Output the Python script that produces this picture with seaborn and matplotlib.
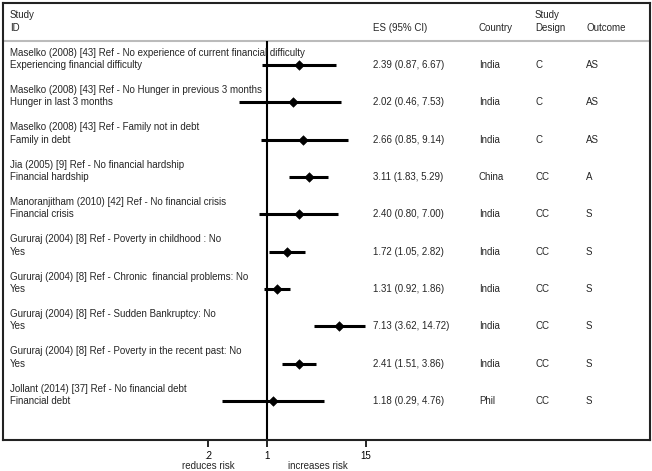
import numpy as np
import pandas as pd
import seaborn as sns
import matplotlib.pyplot as plt
import matplotlib.transforms as mtransforms

# Datos del forest plot
estudios = ["Maselko (2008) [43] Ref - No experience of current financial difficulty",
            "Maselko (2008) [43] Ref - No Hunger in previous 3 months",
            "Maselko (2008) [43] Ref - Family not in debt",
            "Jia (2005) [9] Ref - No financial hardship",
            "Manoranjitham (2010) [42] Ref - No financial crisis",
            "Gururaj (2004) [8] Ref - Poverty in childhood : No",
            "Gururaj (2004) [8] Ref - Chronic  financial problems: No",
            "Gururaj (2004) [8] Ref - Sudden Bankruptcy: No",
            "Gururaj (2004) [8] Ref - Poverty in the recent past: No",
            "Jollant (2014) [37] Ref - No financial debt"]
exposicion = ["Experiencing financial difficulty", "Hunger in last 3 months", "Family in debt",
              "Financial hardship", "Financial crisis", "Yes", "Yes", "Yes", "Yes", "Financial debt"]
es = [2.39, 2.02, 2.66, 3.11, 2.40, 1.72, 1.31, 7.13, 2.41, 1.18]
lo = [0.87, 0.46, 0.85, 1.83, 0.80, 1.05, 0.92, 3.62, 1.51, 0.29]
hi = [6.67, 7.53, 9.14, 5.29, 7.00, 2.82, 1.86, 14.72, 3.86, 4.76]
pais = ["India", "India", "India", "China", "India", "India", "India", "India", "India", "Phil"]
diseno = ["C", "C", "C", "CC", "CC", "CC", "CC", "CC", "CC", "CC"]
resultado = ["AS", "AS", "AS", "A", "S", "S", "S", "S", "S", "S"]
ticks = [0.2, 1, 15]
tick_labels = [".2", "1", "15"]

df = pd.DataFrame({"estudio": estudios, "exp": exposicion, "es": es, "lo": lo, "hi": hi,
                   "pais": pais, "diseno": diseno, "resultado": resultado})
df["fila"] = np.arange(len(df))

sns.set_theme(style="white")
plt.rcParams["font.family"] = ["Liberation Sans", "DejaVu Sans"]

fig = plt.figure(figsize=(6.52, 4.71), dpi=100)
ax = fig.add_axes([3 / 652, 31 / 471, 647 / 652, 437 / 471])

ax.set_xscale("log")
ppd = 84.3  # pixeles por decada
ax.set_xlim(10 ** ((3 - 267) / ppd), 10 ** ((650 - 267) / ppd))
ax.set_ylim(10.04, -1.66)

# Marco
for s in ax.spines.values():
    s.set_color("#222222")
    s.set_linewidth(1.5)

# Linea de cabecera y linea de no efecto
ax.axhline(-0.63, color="#bbbbbb", lw=1.5)
ax.vlines(1, -0.63, 10.04, color="black", lw=1.5)

# Intervalos de confianza y puntos
ax.hlines(df["fila"], df["lo"], df["hi"], color="black", lw=2.2)
sns.scatterplot(data=df, x="es", y="fila", marker="D", s=24, color="black",
                edgecolor="black", ax=ax, legend=False, zorder=3)

# Textos
tr = mtransforms.blended_transform_factory(ax.transAxes, ax.transData)
fs = 7
cols = [0.0108, 0.5719, 0.7357, 0.8223, 0.9011]
for i, r in df.iterrows():
    ax.text(cols[0], r["fila"] - 0.33, r["estudio"], transform=tr, fontsize=fs, va="center")
    ax.text(cols[0], r["fila"], r["exp"], transform=tr, fontsize=fs, va="center")
    ax.text(cols[1], r["fila"], f"{r['es']:.2f} ({r['lo']:.2f}, {r['hi']:.2f})",
            transform=tr, fontsize=fs, va="center")
    ax.text(cols[2], r["fila"], r["pais"], transform=tr, fontsize=fs, va="center")
    ax.text(cols[3], r["fila"], r["diseno"], transform=tr, fontsize=fs, va="center")
    ax.text(cols[4], r["fila"], r["resultado"], transform=tr, fontsize=fs, va="center")

# Cabecera
ax.text(cols[0], -1.34, "Study", transform=tr, fontsize=fs, va="center")
ax.text(cols[0], -1.0, "ID", transform=tr, fontsize=fs, va="center")
ax.text(cols[1], -1.0, "ES (95% CI)", transform=tr, fontsize=fs, va="center")
ax.text(cols[2], -1.0, "Country", transform=tr, fontsize=fs, va="center")
ax.text(cols[3], -1.34, "Study", transform=tr, fontsize=fs, va="center")
ax.text(cols[3], -1.0, "Design", transform=tr, fontsize=fs, va="center")
ax.text(cols[4], -1.0, "Outcome", transform=tr, fontsize=fs, va="center")

# Eje x
ax.set_xticks(ticks)
ax.set_xticklabels(tick_labels, fontsize=fs)
ax.minorticks_off()
ax.tick_params(axis="x", bottom=True, direction="out", length=5, width=1.2, pad=3, colors="black")
ax.set_yticks([])
ax.set_xlabel("")
ax.set_ylabel("")

ax.text(0.317, -0.06, "reduces risk", transform=ax.transAxes, fontsize=fs, ha="center", va="center")
ax.text(0.487, -0.06, "increases risk", transform=ax.transAxes, fontsize=fs, ha="center", va="center")

fig.savefig("out.png", dpi=100)
